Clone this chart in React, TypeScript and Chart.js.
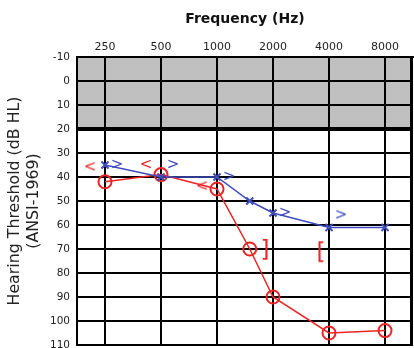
import React, { useEffect, useRef } from 'react';
import { Chart, registerables } from 'chart.js';

Chart.register(...registerables);

// ---- data ----
const TICK_FREQS = [250, 500, 1000, 2000, 4000, 8000];
const TICK_LABELS = ['250', '500', '1000', '2000', '4000', '8000'];
const Y_MIN = -10;
const Y_MAX = 110;
const Y_STEP = 10;
const SHADED_RANGE = [-10, 20];

const AIR_FREQS = [250, 500, 1000, 1500, 2000, 4000, 8000];
const RIGHT_AIR = [42, 39, 45, 70, 90, 105, 104];
const LEFT_AIR = [35, 40, 40, 50, 55, 61, 61];

const RIGHT_BONE_FREQS = [250, 500, 1000];
const RIGHT_BONE = [36, 35, 44];

const LEFT_BONE_FREQS = [250, 500, 1000, 2000, 4000];
const LEFT_BONE = [35, 35, 40, 55, 56];

const RIGHT_MASKED_FREQS = [2000, 4000];
const RIGHT_MASKED = [71, 72];
const RIGHT_MASKED_SYMBOLS = [']', '['];

const RED = '#ee2424';
const BLUE = '#3f4cbd';
const FONT = '"DejaVu Sans", "Liberation Sans", Arial, sans-serif';

function symbolImage(ch: string, color: string, dx: number, size: number) {
  const pad = Math.abs(dx);
  const w = Math.ceil(2 * pad + size * 1.2);
  const h = Math.ceil(size * 1.6);
  const c = document.createElement('canvas');
  c.width = w;
  c.height = h;
  const g = c.getContext('2d')!;
  g.fillStyle = color;
  g.font = `${size}px ${FONT}`;
  g.textAlign = 'center';
  g.textBaseline = 'middle';
  g.fillText(ch, w / 2 + dx, h / 2);
  return c;
}

const pts = (xs: number[], ys: number[]) => xs.map((x, i) => ({ x, y: ys[i] }));

const audiogramPlugin = {
  id: 'audiogramBg',
  beforeDraw(chart: any) {
    const { ctx, chartArea, scales } = chart;
    const y = scales.y;
    const t = y.getPixelForValue(SHADED_RANGE[0]);
    const b = y.getPixelForValue(SHADED_RANGE[1]);
    ctx.save();
    ctx.fillStyle = '#c0c0c0';
    ctx.fillRect(chartArea.left, t, chartArea.right - chartArea.left, b - t);
    ctx.restore();
  },
  beforeDatasetsDraw(chart: any) {
    const { ctx, chartArea } = chart;
    ctx.save();
    ctx.strokeStyle = '#000';
    ctx.lineWidth = 3;
    ctx.beginPath();
    ctx.moveTo(chartArea.right - 1.5, chartArea.top);
    ctx.lineTo(chartArea.right - 1.5, chartArea.bottom);
    ctx.stroke();
    ctx.restore();
  },
};

export default function App() {
  const ref = useRef<HTMLCanvasElement | null>(null);

  useEffect(() => {
    document.body.style.margin = '0';
    const ltRed = symbolImage('<', RED, -15, 15);
    const gtBlue = symbolImage('>', BLUE, 12, 15);
    const brackets = RIGHT_MASKED_SYMBOLS.map((s) => symbolImage(s, RED, -8, 23));

    const chart = new Chart(ref.current!, {
      type: 'line',
      data: {
        datasets: [
          {
            label: 'Left air',
            data: pts(AIR_FREQS, LEFT_AIR),
            borderColor: BLUE,
            borderWidth: 1.5,
            pointStyle: 'crossRot',
            pointRadius: 5,
            pointBorderWidth: 2,
            pointBorderColor: BLUE,
            pointBackgroundColor: BLUE,
            tension: 0,
          },
          {
            label: 'Right air',
            data: pts(AIR_FREQS, RIGHT_AIR),
            borderColor: RED,
            borderWidth: 1.5,
            pointStyle: 'circle',
            pointRadius: 6.5,
            pointBorderWidth: 2,
            pointBorderColor: RED,
            pointBackgroundColor: 'rgba(0,0,0,0)',
            tension: 0,
          },
          {
            label: 'Right bone',
            data: pts(RIGHT_BONE_FREQS, RIGHT_BONE),
            showLine: false,
            pointStyle: ltRed as any,
            pointRadius: 4,
          },
          {
            label: 'Left bone',
            data: pts(LEFT_BONE_FREQS, LEFT_BONE),
            showLine: false,
            pointStyle: gtBlue as any,
            pointRadius: 4,
          },
          {
            label: 'Right masked bone',
            data: pts(RIGHT_MASKED_FREQS, RIGHT_MASKED),
            showLine: false,
            pointStyle: brackets as any,
            pointRadius: 4,
          },
        ],
      },
      options: {
        animation: false,
        responsive: true,
        maintainAspectRatio: false,
        layout: { autoPadding: false, padding: { left: 0, top: 0, right: 1, bottom: 3 } },
        plugins: { legend: { display: false }, tooltip: { enabled: false } },
        scales: {
          x: {
            type: 'logarithmic',
            position: 'top',
            min: TICK_FREQS[0] / Math.SQRT2,
            max: TICK_FREQS[TICK_FREQS.length - 1] * Math.SQRT2,
            afterBuildTicks: (s: any) => {
              s.ticks = TICK_FREQS.map((v) => ({ value: v }));
            },
            afterFit: (s: any) => {
              s.height = 57;
              s.paddingLeft = 0;
              s.paddingRight = 0;
            },
            ticks: {
              autoSkip: false,
              maxRotation: 0,
              padding: 3,
              color: '#222',
              font: { family: FONT, size: 11 },
              callback: (_v: any, i: number) => TICK_LABELS[i],
            },
            grid: { color: '#000', lineWidth: 2, drawTicks: false },
            border: { color: '#000', width: 2 },
            title: {
              display: true,
              text: 'Frequency (Hz)',
              color: '#111',
              font: { family: FONT, size: 14, weight: 'bold' },
              padding: { top: 11, bottom: 0 },
            },
          } as any,
          y: {
            type: 'linear',
            reverse: true,
            min: Y_MIN,
            max: Y_MAX,
            afterFit: (s: any) => {
              s.width = 77;
              s.paddingTop = 0;
              s.paddingBottom = 0;
            },
            ticks: {
              stepSize: Y_STEP,
              padding: 7,
              color: '#222',
              font: { family: FONT, size: 10.5 },
            },
            grid: {
              color: '#000',
              lineWidth: (c: any) => (c.tick && c.tick.value === SHADED_RANGE[1] ? 4 : 2),
              drawTicks: false,
            },
            border: { color: '#000', width: 2 },
            title: {
              display: true,
              text: ['Hearing Threshold (dB HL)', '(ANSI-1969)'],
              color: '#222',
              font: { family: FONT, size: 15.8, lineHeight: 1.2 },
              padding: { top: 5.5, bottom: 0 },
            },
          } as any,
        },
      },
      plugins: [audiogramPlugin],
    });
    return () => chart.destroy();
  }, []);

  return (
    <div style={{ position: 'fixed', left: 0, top: 0, width: 414, height: 348 }}>
      <canvas ref={ref} />
    </div>
  );
}
